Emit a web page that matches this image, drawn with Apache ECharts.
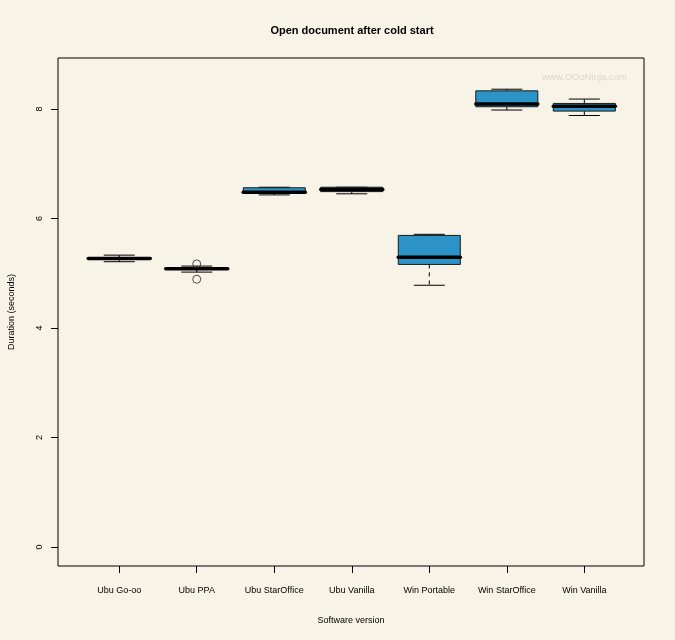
<!DOCTYPE html>
<html>
<head>
<meta charset="utf-8">
<script src="https://cdn.jsdelivr.net/npm/echarts@6/dist/echarts.min.js"></script>
<style>
html,body{margin:0;padding:0;background:#F7F3E6;}
#c{width:675px;height:640px;}
</style>
</head>
<body>
<div id="c"></div>
<script>
var categories = ['Ubu Go-oo','Ubu PPA','Ubu StarOffice','Ubu Vanilla','Win Portable','Win StarOffice','Win Vanilla'];
var whiskerLow  = [5.21, 5.02, 6.43, 6.45, 4.78, 7.98, 7.88];
var q1          = [5.26, 5.07, 6.46, 6.49, 5.16, 8.04, 7.96];
var median      = [5.27, 5.08, 6.48, 6.53, 5.29, 8.09, 8.05];
var q3          = [5.28, 5.09, 6.56, 6.57, 5.69, 8.33, 8.10];
var whiskerHigh = [5.33, 5.13, 6.57, 6.57, 5.71, 8.36, 8.18];
var outlierCat  = [2, 2];
var outlierVal  = [5.17, 4.89];
var yTicks = [0, 2, 4, 6, 8];
var xTicks = [1, 2, 3, 4, 5, 6, 7];

var boxData = categories.map(function (c, i) {
  return [i + 1, whiskerLow[i], q1[i], median[i], q3[i], whiskerHigh[i]];
});
var outData = outlierCat.map(function (c, i) { return [c, outlierVal[i]]; });

var FONT = 'Liberation Sans, Arial, Helvetica, sans-serif';
var chart = echarts.init(document.getElementById('c'));

function renderBox(params, api) {
  var x = api.value(0);
  var lo = api.coord([x, api.value(1)]);
  var b1 = api.coord([x, api.value(2)]);
  var md = api.coord([x, api.value(3)]);
  var b3 = api.coord([x, api.value(4)]);
  var hi = api.coord([x, api.value(5)]);
  var unit = api.size([1, 0])[0];
  var hw = unit * 0.4;
  var cw = unit * 0.2;
  var cx = lo[0];
  var lineStyle = {stroke: '#000', lineWidth: 1, fill: null};
  return {
    type: 'group',
    children: [
      {type: 'line', shape: {x1: cx, y1: b3[1], x2: cx, y2: hi[1]}, style: {stroke: '#000', lineWidth: 1, lineDash: [4, 4]}},
      {type: 'line', shape: {x1: cx, y1: b1[1], x2: cx, y2: lo[1]}, style: {stroke: '#000', lineWidth: 1, lineDash: [4, 4]}},
      {type: 'line', shape: {x1: cx - cw, y1: hi[1], x2: cx + cw, y2: hi[1]}, style: lineStyle},
      {type: 'line', shape: {x1: cx - cw, y1: lo[1], x2: cx + cw, y2: lo[1]}, style: lineStyle},
      {type: 'rect', shape: {x: cx - hw, y: b3[1], width: hw * 2, height: b1[1] - b3[1]}, style: {fill: '#2B93C6', stroke: '#1a1a1a', lineWidth: 1}},
      {type: 'line', shape: {x1: cx - hw, y1: md[1], x2: cx + hw, y2: md[1]}, style: {stroke: '#000', lineWidth: 3.5, lineCap: 'round'}}
    ]
  };
}

chart.setOption({
  backgroundColor: '#F7F3E6',
  animation: false,
  title: {
    text: 'Open document after cold start',
    left: 347, top: 20, textAlign: 'center',
    textStyle: {fontFamily: FONT, fontSize: 11, fontWeight: 'bold', color: '#000'}
  },
  graphic: [{
    type: 'text', left: 542, top: 72,
    style: {text: 'www.OOoNinja.com', font: '9.5px ' + FONT, fill: '#DAD7CF'}
  }],
  grid: {left: 58, right: 31, top: 58, bottom: 74, outerBoundsMode: 'none', containLabel: false,
         show: true, borderColor: '#000', borderWidth: 1, backgroundColor: 'transparent'},
  xAxis: {
    type: 'value', min: 0.21, max: 7.77,
    name: 'Software version', nameLocation: 'middle', nameGap: 50,
    nameTextStyle: {fontFamily: FONT, fontSize: 9, color: '#000'},
    axisLine: {show: false, onZero: false},
    splitLine: {show: false},
    axisTick: {show: true, length: 7, lineStyle: {color: '#000'}, customValues: xTicks},
    axisLabel: {
      customValues: xTicks, margin: 20,
      fontFamily: FONT, fontSize: 9, color: '#000',
      formatter: function (v) { return categories[Math.round(v) - 1] || ''; }
    }
  },
  yAxis: {
    type: 'value', min: -0.347, max: 8.93,
    name: 'Duration (seconds)', nameLocation: 'middle', nameGap: 42, nameRotate: 90,
    nameTextStyle: {fontFamily: FONT, fontSize: 9, color: '#000'},
    axisLine: {show: false, onZero: false},
    splitLine: {show: false},
    axisTick: {show: true, length: 7, lineStyle: {color: '#000'}, customValues: yTicks},
    axisLabel: {customValues: yTicks, rotate: 90, margin: 14, fontFamily: FONT, fontSize: 9, color: '#000'}
  },
  series: [
    {type: 'custom', renderItem: renderBox, data: boxData, encode: {x: 0, y: [1, 2, 3, 4, 5]}, clip: false},
    {type: 'scatter', data: outData, symbol: 'circle', symbolSize: 8,
     itemStyle: {color: 'transparent', borderColor: '#222', borderWidth: 1}}
  ]
});
</script>
</body>
</html>
